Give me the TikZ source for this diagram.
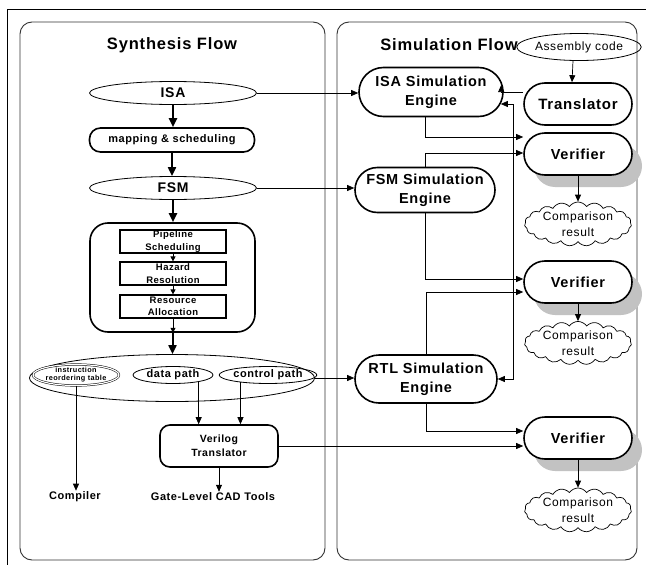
\documentclass[tikz,border=0pt]{standalone}
\usepackage{fontspec}
\setmainfont{Liberation Sans}[LetterSpace=5]
\usetikzlibrary{shapes.geometric,shapes.misc,shapes.symbols,arrows.meta,calc,shadows}

\newcommand\txtsize[2]{\fontsize{#1}{#2}\selectfont}
\definecolor{shadowgray}{gray}{0.76}

\tikzset{
  panel/.style={draw=black!80, line width=0.9pt, rounded corners=12pt},
  title/.style={font=\bfseries\txtsize{16.5}{19}},
  oval/.style={draw, ellipse, line width=0.8pt, inner sep=0pt, minimum width=167pt, minimum height=23pt, font=\bfseries\txtsize{14}{16}},
  rbox/.style={draw, rectangle, line width=1.6pt, inner sep=0pt, align=center},
  sbox/.style={draw, rectangle, line width=1.2pt, inner sep=0pt, minimum width=106pt, minimum height=23pt, align=center, font=\bfseries\txtsize{9.5}{12.5}},
  subell/.style={draw, ellipse, line width=0.8pt, inner sep=0pt, minimum height=17pt, font=\bfseries\txtsize{11}{13}},
  engine/.style={draw, rounded rectangle, line width=1.6pt, inner sep=0pt, align=center, fill=white, font=\bfseries\txtsize{14.5}{19}},
  checker/.style={engine, minimum width=108pt, minimum height=42pt, copy shadow={fill=shadowgray, draw=none, shadow xshift=10pt, shadow yshift=-12pt}},
  result/.style={draw, cloud, cloud puffs=19, cloud puff arc=110, cloud ignores aspect, line width=0.7pt, inner sep=0pt, minimum width=107pt, minimum height=44pt, align=center, font=\txtsize{12}{16}},
  label/.style={inner sep=1pt, font=\bfseries\txtsize{11}{13}},
  bigarrow/.style={line width=2pt, -{Triangle[length=9pt, width=8pt]}},
  smallarrow/.style={line width=0.8pt, -{Triangle[length=5pt, width=5pt]}},
  conn/.style={line width=0.7pt, -{Triangle[length=7pt, width=6pt]}},
  dconn/.style={line width=0.7pt, {Triangle[length=7pt, width=6pt]}-{Triangle[length=7pt, width=6pt]}},
}

\begin{document}
\begin{tikzpicture}[x=1pt, y=-1pt]
\useasboundingbox (0,0) rectangle (646,565);

% outer frame and the two flow panels
\draw[line width=0.8pt] (7,565) -- (7,9) -- (646,9);
\draw[panel] (20,22) rectangle (325,560);
\draw[panel] (337,22) rectangle (637,560);

\node[title] (synT) at (172,45) {Synthesis Flow};
\node[title] (simT) at (449,45) {Simulation Flow};

% ---------------- synthesis flow ----------------
\node[oval] (isa) at (173,93) {ISA};
\node[rbox, minimum width=165pt, minimum height=24pt, rounded corners=11pt, font=\bfseries\txtsize{11}{13}] (map) at (172,140) {mapping \& scheduling};
\node[oval] (fsm) at (173,188) {FSM};

\node[rbox, minimum width=165pt, minimum height=109pt, rounded corners=18pt] (stage) at (172.5,277.5) {};
\node[sbox] (pipe) at (173,241.5) {Pipeline\\Scheduling};
\node[sbox] (haz) at (173,273.5) {Hazard\\Resolution};
\node[sbox] (res) at (173,306.5) {Resource\\Allocation};

\node[draw, ellipse, line width=0.8pt, minimum width=285pt, minimum height=47pt] (outs) at (172,378) {};
\node[draw, ellipse, line width=0.5pt, double, double distance=1.2pt, inner sep=0pt, minimum width=86pt, minimum height=17pt, align=center, font=\bfseries\txtsize{7.3}{8}] (instr) at (76,375) {instruction\\reordering table};
\node[subell, minimum width=80pt] (data) at (173,375) {data path};
\node[subell, minimum width=90pt] (ctrl) at (268,375) {control path};

\node[rbox, minimum width=118pt, minimum height=42pt, rounded corners=10pt, font=\bfseries\txtsize{10.5}{14}] (vt) at (219,446) {Verilog\\Translator};

\node[label] (comp) at (75,497) {Compiler};
\node[label] (gate) at (213,497) {Gate-Level CAD Tools};

\draw[bigarrow] (isa.south) -- (isa.south |- map.north);
\draw[bigarrow] (map.south) -- (map.south |- fsm.north);
\draw[bigarrow] (fsm.south) -- (fsm.south |- stage.north);
\draw[bigarrow] (stage.south) -- (stage.south |- outs.north);
\draw[smallarrow] (pipe.south) -- (haz.north);
\draw[smallarrow] (haz.south) -- (res.north);
\draw[smallarrow] (res.south) -- (res.south |- stage.south);

\draw[conn] (instr.south) -- (instr.south |- comp.north);
\draw[conn] (data.-15) -- (data.-15 |- vt.north);
\draw[conn] (ctrl.-165) -- (ctrl.-165 |- vt.north);
\draw[conn] (vt.south) -- (vt.south |- gate.north);

% ---------------- simulation flow ----------------
\node[draw, ellipse, line width=0.8pt, inner sep=0pt, minimum width=108pt, minimum height=27pt, font=\txtsize{12}{14}] (asm) at (579,47) {Assembly code};
\node[engine, minimum width=144pt, minimum height=49pt] (isaE) at (431,92) {ISA Simulation\\Engine};
\node[engine, minimum width=108pt, minimum height=42pt, font=\bfseries\txtsize{15}{17}] (trans) at (578,104) {Translator};
\node[engine, minimum width=140pt, minimum height=45pt] (fsmE) at (425,190) {FSM Simulation\\Engine};
\node[engine, minimum width=142pt, minimum height=48pt] (rtlE) at (426,379) {RTL Simulation\\Engine};

\node[checker] (ver1) at (578,154) {Verifier};
\node[checker] (ver2) at (578,282) {Verifier};
\node[checker] (ver3) at (578,438) {Verifier};

\node[result] (c1) at (578,224) {Comparison\\result};
\node[result, minimum height=40pt] (c2) at (578,343) {Comparison\\result};
\node[result] (c3) at (578,510) {Comparison\\result};

% links from the synthesis side into the engines
\draw[conn] (isa.east) -- (isa.east -| isaE.west);
\draw[conn] (fsm.east) -- (fsm.east -| fsmE.west);
\draw[conn] (outs.east) -- (outs.east -| rtlE.west);
\draw[conn] (vt.east) -- (vt.east -| ver3.west);

% translated program fed to the engines
\draw[conn] ($(asm.south)+(-6,0)$) -- ($(trans.north)+(-6,0)$);
\draw[conn] (isaE.east -| trans.west) -- ++(-22,0) -- ++(0,-7);
\draw[dconn] ($(isaE.east)+(-3,12)$) -| ($(rtlE.east)+(16,0)$) -- (rtlE.east);

% engine outputs compared by the verifiers
\draw[conn] ($(isaE.south)+(-6,0)$) |- ($(ver1.west)+(0,-17)$);
\draw[conn] (fsmE.north) |- ($(ver1.west)+(0,-1)$);
\draw[conn] (fsmE.south) |- ($(ver2.west)+(0,-3)$);
\draw[conn] (rtlE.north) |- ($(ver2.west)+(0,10)$);
\draw[conn] (rtlE.south) |- ($(ver3.west)+(0,-7)$);

\draw[conn] (ver1.south) -- (c1.north);
\draw[conn] (ver2.south) -- (c2.north);
\draw[conn] (ver3.south) -- (c3.north);
\end{tikzpicture}
\end{document}
